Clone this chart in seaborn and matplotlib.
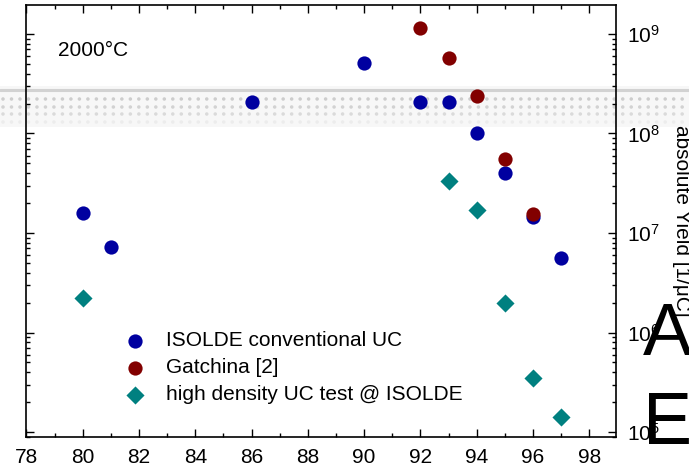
import numpy as np
import pandas as pd
import matplotlib
matplotlib.use("Agg")
import matplotlib.pyplot as plt
from matplotlib.lines import Line2D
from matplotlib.patches import Rectangle
from matplotlib.ticker import LogLocator, MultipleLocator, NullFormatter
import seaborn as sns

# ---- data ----
iso_x = [80, 81, 86, 90, 92, 93, 94, 95, 96, 97]
iso_y = [1.6e7, 7.2e6, 2.05e8, 5.1e8, 2.05e8, 2.05e8, 1.0e8, 4.0e7, 1.45e7, 5.6e6]
gat_x = [92, 93, 94, 95, 96]
gat_y = [1.15e9, 5.8e8, 2.4e8, 5.5e7, 1.55e7]
hd_x = [80, 93, 94, 95, 96, 97]
hd_y = [2.2e6, 3.3e7, 1.7e7, 2.0e6, 3.5e5, 1.4e5]

labels = ["ISOLDE conventional UC", "Gatchina [2]", "high density UC test @ ISOLDE"]
colors = ["#0000A0", "#820000", "#008080"]

sns.set_theme(style="white")
plt.rcParams["font.family"] = ["Liberation Sans", "DejaVu Sans"]
plt.rcParams["mathtext.fontset"] = "custom"
plt.rcParams["mathtext.rm"] = "Liberation Sans"
plt.rcParams["mathtext.it"] = "Liberation Sans:italic"
plt.rcParams["mathtext.bf"] = "Liberation Sans:bold"

W, H = 689, 469
fig = plt.figure(figsize=(W / 100, H / 100), dpi=100)
fig.patch.set_facecolor("white")

def fx(px):
    return px / W

def fy(py):
    return 1 - py / H

# background artifact band
fig.add_artist(Rectangle((0, fy(127)), 1, fy(86) - fy(127), transform=fig.transFigure,
                         facecolor="#f7f7f7", edgecolor="none", zorder=-5))
fig.add_artist(Line2D([0, 1], [fy(90), fy(90)], transform=fig.transFigure,
                      color="#d2d2d2", lw=2.2, zorder=-4))
for yy, col in [(99, "#cdcdcd"), (107, "#d2d2d2"), (114, "#dadada"), (122, "#ececec")]:
    fig.add_artist(Line2D([0.004, 1], [fy(yy), fy(yy)], transform=fig.transFigure,
                          color=col, lw=2.6, linestyle=(0, (0.001, 2.35)),
                          dash_capstyle="round", zorder=-4))

ax = fig.add_axes([fx(26.4), fy(437), fx(616 - 26.4), (437 - 5) / H])
ax.patch.set_alpha(0)

df_iso = pd.DataFrame({"A": iso_x, "Y": iso_y})
df_gat = pd.DataFrame({"A": gat_x, "Y": gat_y})
df_hd = pd.DataFrame({"A": hd_x, "Y": hd_y})

sns.scatterplot(data=df_iso, x="A", y="Y", ax=ax, color=colors[0], marker="o",
                s=105, linewidth=0, label=labels[0], zorder=3)
sns.scatterplot(data=df_gat, x="A", y="Y", ax=ax, color=colors[1], marker="o",
                s=105, linewidth=0, label=labels[1], zorder=4)
sns.scatterplot(data=df_hd, x="A", y="Y", ax=ax, color=colors[2], marker="D",
                s=85, linewidth=0, label=labels[2], zorder=5)

ax.set_yscale("log")
ax.set_xlim(78, 98.95)
ax.set_ylim(10 ** 4.95, 10 ** 9.291)
ax.set_xlabel("")
ax.set_ylabel("")

ax.xaxis.set_major_locator(MultipleLocator(2))
ax.xaxis.set_minor_locator(MultipleLocator(1))
ax.yaxis.set_major_locator(LogLocator(base=10, numticks=10))
ax.yaxis.set_minor_locator(LogLocator(base=10, subs=np.arange(2, 10), numticks=20))
ax.yaxis.set_minor_formatter(NullFormatter())

for sp in ax.spines.values():
    sp.set_visible(True)
    sp.set_color("black")
    sp.set_linewidth(1.2)

ax.tick_params(which="both", direction="in", top=True, bottom=True, left=True, right=True,
               labelleft=False, labelright=True, labelbottom=True, labeltop=False,
               colors="black", width=1.0)
ax.tick_params(which="major", length=6)
ax.tick_params(which="minor", length=3.2)
ax.tick_params(axis="x", which="major", labelsize=15, pad=8)
ax.tick_params(axis="y", which="major", labelsize=15, pad=8)

ax.text(fx(58), fy(56), "2000°C", transform=fig.transFigure, fontsize=15,
        ha="left", va="baseline", color="black")

leg = ax.legend(loc="upper left", bbox_to_anchor=((125.3 - 26.4) / 589.6, (437 - 331) / 432),
                frameon=False, fontsize=15, handlelength=0.95, handletextpad=0.98,
                labelspacing=0.39, borderpad=0, borderaxespad=0)
for t in leg.get_texts():
    t.set_color("black")

fig.text(fx(672), fy(221), "absolute Yield [1/μC]", rotation=-90, fontsize=15,
         ha="left", va="center", color="black", zorder=10)
fig.text(fx(643), fy(355), "A", fontsize=53, ha="left", va="baseline", color="black", zorder=20)
fig.text(fx(643), fy(444), "E", fontsize=53, ha="left", va="baseline", color="black", zorder=20)

fig.savefig("out.png", dpi=100, facecolor="white")
